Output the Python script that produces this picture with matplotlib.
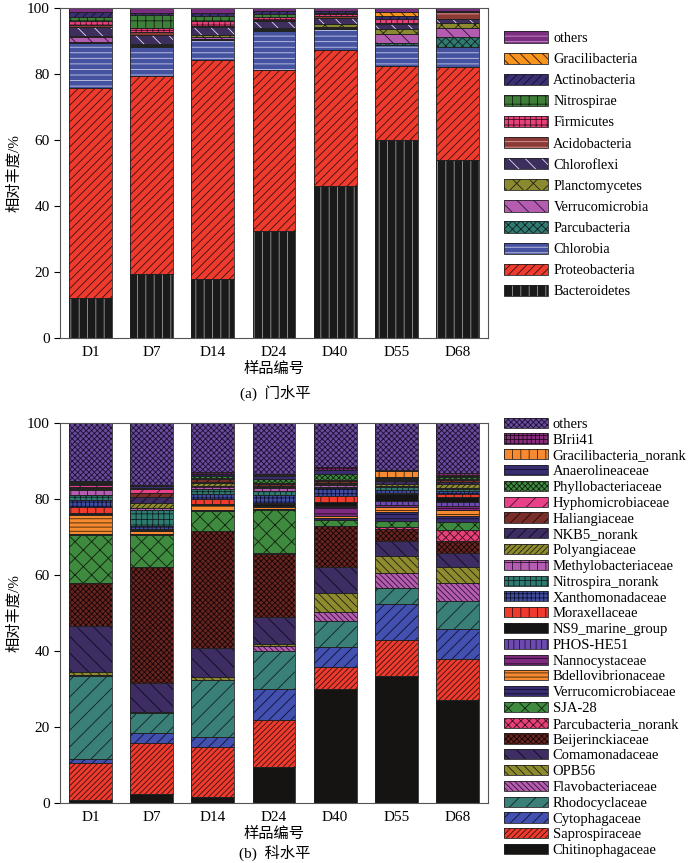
import matplotlib
matplotlib.use('Agg')
import matplotlib.pyplot as plt
from matplotlib.patches import Patch
import numpy as np

plt.rcParams['font.family'] = ['Liberation Serif', 'Noto Sans CJK SC']
plt.rcParams['hatch.linewidth'] = 0.6

samples = ['D1', 'D7', 'D14', 'D24', 'D40', 'D55', 'D68']

# phylum level, bottom -> top
phyla = ['Bacteroidetes', 'Proteobacteria', 'Chlorobia', 'Parcubacteria',
         'Verrucomicrobia', 'Planctomycetes', 'Chloroflexi', 'Acidobacteria',
         'Firmicutes', 'Nitrospirae', 'Actinobacteria', 'Gracilibacteria', 'others']
phylum_values = {
    'Bacteroidetes':   [12.0, 19.5, 18.0, 32.5, 46.0, 60.0, 54.0],
    'Proteobacteria':  [63.8, 59.9, 66.4, 48.7, 41.3, 22.5, 28.1],
    'Chlorobia':       [13.6, 8.9, 6.0, 11.9, 6.2, 6.3, 6.2],
    'Parcubacteria':   [0.3, 0.2, 0.2, 0.2, 0.3, 0.7, 3.0],
    'Verrucomicrobia': [1.5, 0.3, 0.6, 0.2, 0.5, 2.5, 2.5],
    'Planctomycetes':  [0.4, 0.2, 0.5, 0.5, 1.0, 1.5, 1.6],
    'Chloroflexi':     [2.5, 2.8, 2.4, 2.0, 1.6, 1.8, 1.3],
    'Acidobacteria':   [0.8, 0.8, 0.6, 0.5, 0.6, 0.3, 2.0],
    'Firmicutes':      [1.3, 1.4, 1.3, 0.8, 0.8, 1.0, 0.1],
    'Nitrospirae':     [1.1, 4.0, 1.5, 1.0, 0.2, 0.2, 0.1],
    'Actinobacteria':  [1.4, 0.4, 0.9, 0.8, 0.5, 0.7, 0.1],
    'Gracilibacteria': [0.1, 0.1, 0.1, 0.1, 0.0, 1.3, 0.0],
    'others':          [1.2, 1.5, 1.5, 0.8, 1.0, 1.2, 1.0],
}
# face, hatch colour, hatch
phylum_style = {
    'Bacteroidetes':   ('#1a1a1a', '#9a9a9a', '||'),
    'Proteobacteria':  ('#ee3b2d', '#3a1010', '////'),
    'Chlorobia':       ('#4452a0', '#c8c8e8', '---'),
    'Parcubacteria':   ('#2f7b72', '#102020', 'xxxx'),
    'Verrucomicrobia': ('#b45db0', '#301030', '\\\\'),
    'Planctomycetes':  ('#8c8a30', '#202010', 'xx'),
    'Chloroflexi':     ('#3d2e5e', '#e0e0f0', '\\\\'),
    'Acidobacteria':   ('#8c3a35', '#e0a0a0', '---'),
    'Firmicutes':      ('#e8407a', '#401020', '+++'),
    'Nitrospirae':     ('#3f7f3a', '#102010', '++'),
    'Actinobacteria':  ('#3b2f72', '#101030', '////'),
    'Gracilibacteria': ('#f7941d', '#301800', '\\\\\\'),
    'others':          ('#7b2d80', '#d090d0', '---'),
}

# family level, bottom -> top
families = ['Chitinophagaceae', 'Saprospiraceae', 'Cytophagaceae', 'Rhodocyclaceae',
            'Flavobacteriaceae', 'OPB56', 'Comamonadaceae', 'Beijerinckiaceae',
            'Parcubacteria_norank', 'SJA-28', 'Verrucomicrobiaceae', 'Bdellovibrionaceae',
            'Nannocystaceae', 'PHOS-HE51', 'NS9_marine_group', 'Moraxellaceae',
            'Xanthomonadaceae', 'Nitrospira_norank', 'Methylobacteriaceae', 'Polyangiaceae',
            'NKB5_norank', 'Haliangiaceae', 'Hyphomicrobiaceae', 'Phyllobacteriaceae',
            'Anaerolineaceae', 'Gracilibacteria_norank', 'BIrii41', 'others']
family_values = {
    'Chitinophagaceae':       [0.7, 2.4, 1.7, 9.4, 29.9, 33.4, 27.1],
    'Saprospiraceae':         [9.9, 13.3, 13.1, 12.4, 6.0, 9.5, 10.7],
    'Cytophagaceae':          [0.9, 2.6, 2.5, 8.1, 5.2, 9.5, 7.9],
    'Rhodocyclaceae':         [22.0, 5.5, 15.1, 10.2, 6.9, 4.3, 7.5],
    'Flavobacteriaceae':      [0.2, 0.1, 0.1, 1.2, 2.3, 3.9, 4.6],
    'OPB56':                  [0.7, 0.1, 0.7, 0.5, 4.9, 4.5, 4.4],
    'Comamonadaceae':         [12.3, 7.7, 7.7, 7.1, 6.8, 3.8, 3.5],
    'Beijerinckiaceae':       [11.1, 30.3, 30.7, 16.6, 10.9, 3.2, 3.3],
    'Parcubacteria_norank':   [0.1, 0.1, 0.1, 0.4, 0.1, 0.5, 2.8],
    'SJA-28':                 [12.7, 8.4, 5.1, 11.2, 1.5, 1.7, 2.2],
    'Verrucomicrobiaceae':    [0.3, 0.3, 0.2, 0.2, 0.4, 2.4, 1.5],
    'Bdellovibrionaceae':     [5.0, 0.7, 1.4, 0.6, 0.7, 1.3, 1.6],
    'Nannocystaceae':         [0.1, 0.1, 0.1, 0.1, 2.4, 0.3, 1.1],
    'PHOS-HE51':              [0.1, 0.1, 0.1, 0.1, 0.2, 1.2, 1.1],
    'NS9_marine_group':       [0.1, 0.1, 0.1, 0.7, 1.0, 1.7, 1.2],
    'Moraxellaceae':          [1.8, 0.3, 1.2, 0.2, 1.7, 0.3, 0.8],
    'Xanthomonadaceae':       [1.7, 0.7, 1.3, 2.0, 1.9, 0.9, 0.8],
    'Nitrospira_norank':      [1.3, 4.3, 1.4, 1.1, 0.3, 0.8, 0.5],
    'Methylobacteriaceae':    [1.4, 0.4, 0.7, 0.8, 0.5, 0.3, 0.4],
    'Polyangiaceae':          [0.3, 1.5, 0.8, 0.3, 0.4, 0.5, 1.0],
    'NKB5_norank':            [0.2, 1.4, 0.4, 0.2, 0.3, 0.6, 0.4],
    'Haliangiaceae':          [0.2, 1.2, 0.8, 0.5, 0.4, 0.4, 0.6],
    'Hyphomicrobiaceae':      [0.5, 1.0, 0.3, 0.2, 0.2, 0.2, 0.3],
    'Phyllobacteriaceae':     [0.4, 0.4, 0.4, 1.2, 1.6, 0.3, 0.5],
    'Anaerolineaceae':        [0.2, 0.3, 0.5, 0.8, 1.0, 0.3, 0.2],
    'Gracilibacteria_norank': [0.2, 0.2, 0.2, 0.2, 0.2, 1.5, 0.2],
    'BIrii41':                [0.2, 0.2, 0.3, 0.3, 0.8, 0.3, 0.7],
    'others':                 [15.4, 16.3, 13.0, 13.4, 11.5, 12.4, 13.1],
}
family_style = {
    'Chitinophagaceae':       ('#161412', '#161412', ''),
    'Saprospiraceae':         ('#ee3b2d', '#3a1010', '//////'),
    'Cytophagaceae':          ('#4250b0', '#101030', '///'),
    'Rhodocyclaceae':         ('#3a7f78', '#102020', '//'),
    'Flavobacteriaceae':      ('#b45db0', '#301030', '\\\\\\\\\\\\'),
    'OPB56':                  ('#8e8a2e', '#202010', '\\\\\\\\'),
    'Comamonadaceae':         ('#3e2d62', '#100a20', '\\\\'),
    'Beijerinckiaceae':       ('#6a2420', '#140606', 'xxxxxx'),
    'Parcubacteria_norank':   ('#e8417a', '#401020', 'xxxx'),
    'SJA-28':                 ('#3e8a3e', '#102010', 'xx'),
    'Verrucomicrobiaceae':    ('#3a2c70', '#101030', '----'),
    'Bdellovibrionaceae':     ('#f58a32', '#402000', '----'),
    'Nannocystaceae':         ('#7e2a7e', '#200a20', '---'),
    'PHOS-HE51':              ('#6c4aaf', '#201040', '|||'),
    'NS9_marine_group':       ('#151515', '#151515', ''),
    'Moraxellaceae':          ('#ee3b2d', '#3a1010', '||'),
    'Xanthomonadaceae':       ('#3f4da0', '#101030', '++++'),
    'Nitrospira_norank':      ('#2e7b72', '#102020', '+++'),
    'Methylobacteriaceae':    ('#b55db0', '#301030', '++'),
    'Polyangiaceae':          ('#8e8a2e', '#202010', '//////'),
    'NKB5_norank':            ('#3e2d62', '#100a20', '///'),
    'Haliangiaceae':          ('#7a2e2a', '#200a0a', '///'),
    'Hyphomicrobiaceae':      ('#e8418a', '#401020', '//'),
    'Phyllobacteriaceae':     ('#3e8a3e', '#102010', 'xxxxxx'),
    'Anaerolineaceae':        ('#3a2c70', '#101030', '---'),
    'Gracilibacteria_norank': ('#f58a32', '#402000', '||'),
    'BIrii41':                ('#8b2a7e', '#200a20', '++++'),
    'others':                 ('#6a4a9c', '#1a1030', 'xxxxxx'),
}


def stacked(ax, names, values, styles):
    x = np.arange(len(samples))
    bottom = np.zeros(len(samples))
    handles = []
    for name in names:
        h = np.array(values[name])
        face, hcol, hatch = styles[name]
        ax.bar(x, h, 0.7, bottom=bottom, color=face, edgecolor=hcol,
               hatch=hatch, linewidth=0)
        ax.bar(x, h, 0.7, bottom=bottom, fill=False, edgecolor='#222222',
               linewidth=0.6)
        bottom += h
        handles.append((Patch(facecolor=face, edgecolor=hcol, hatch=hatch, linewidth=0),
                        Patch(fill=False, edgecolor='#222222', linewidth=0.6)))
    ax.set_xlim(-0.5, len(samples) - 0.5)
    ax.set_ylim(0, 100)
    ax.set_yticks([0, 20, 40, 60, 80, 100])
    ax.set_xticks(x)
    ax.set_xticklabels(samples)
    ax.tick_params(axis='x', length=0, labelsize=11, pad=6)
    ax.tick_params(axis='y', labelsize=11, length=4, width=0.8)
    for s in ax.spines.values():
        s.set_color('#555555')
        s.set_linewidth(0.8)
    ax.set_ylabel('相对丰度/%', fontsize=11)
    ax.yaxis.set_label_coords(-0.09, 0.5)
    ax.set_xlabel('样品编号', fontsize=11, labelpad=2)
    return handles


fig = plt.figure(figsize=(7.0, 8.63), dpi=100)
ax1 = fig.add_axes([0.0857, 0.6083, 0.6114, 0.3824])
ax2 = fig.add_axes([0.0857, 0.0695, 0.6114, 0.4404])

h1 = stacked(ax1, phyla, phylum_values, phylum_style)
h2 = stacked(ax2, families, family_values, family_style)

ax1.legend(h1[::-1], phyla[::-1], loc='upper left', bbox_to_anchor=(0.72, 0.9635),
           bbox_transform=fig.transFigure, frameon=False, fontsize=10.3,
           handlelength=3.1, handleheight=0.82, labelspacing=0.53,
           handletextpad=0.35, borderpad=0, borderaxespad=0)
ax2.legend(h2[::-1], families[::-1], loc='upper left', bbox_to_anchor=(0.72, 0.516),
           bbox_transform=fig.transFigure, frameon=False, fontsize=10.5,
           handlelength=3.0, handleheight=0.69, labelspacing=0.18,
           handletextpad=0.35, borderpad=0, borderaxespad=0)

fig.text(0.393, 1 - 393 / 863, '(a)  门水平', ha='center', va='center', fontsize=11)
fig.text(0.393, 1 - 853 / 863, '(b)  科水平', ha='center', va='center', fontsize=11)

fig.savefig('out.png', dpi=100)
